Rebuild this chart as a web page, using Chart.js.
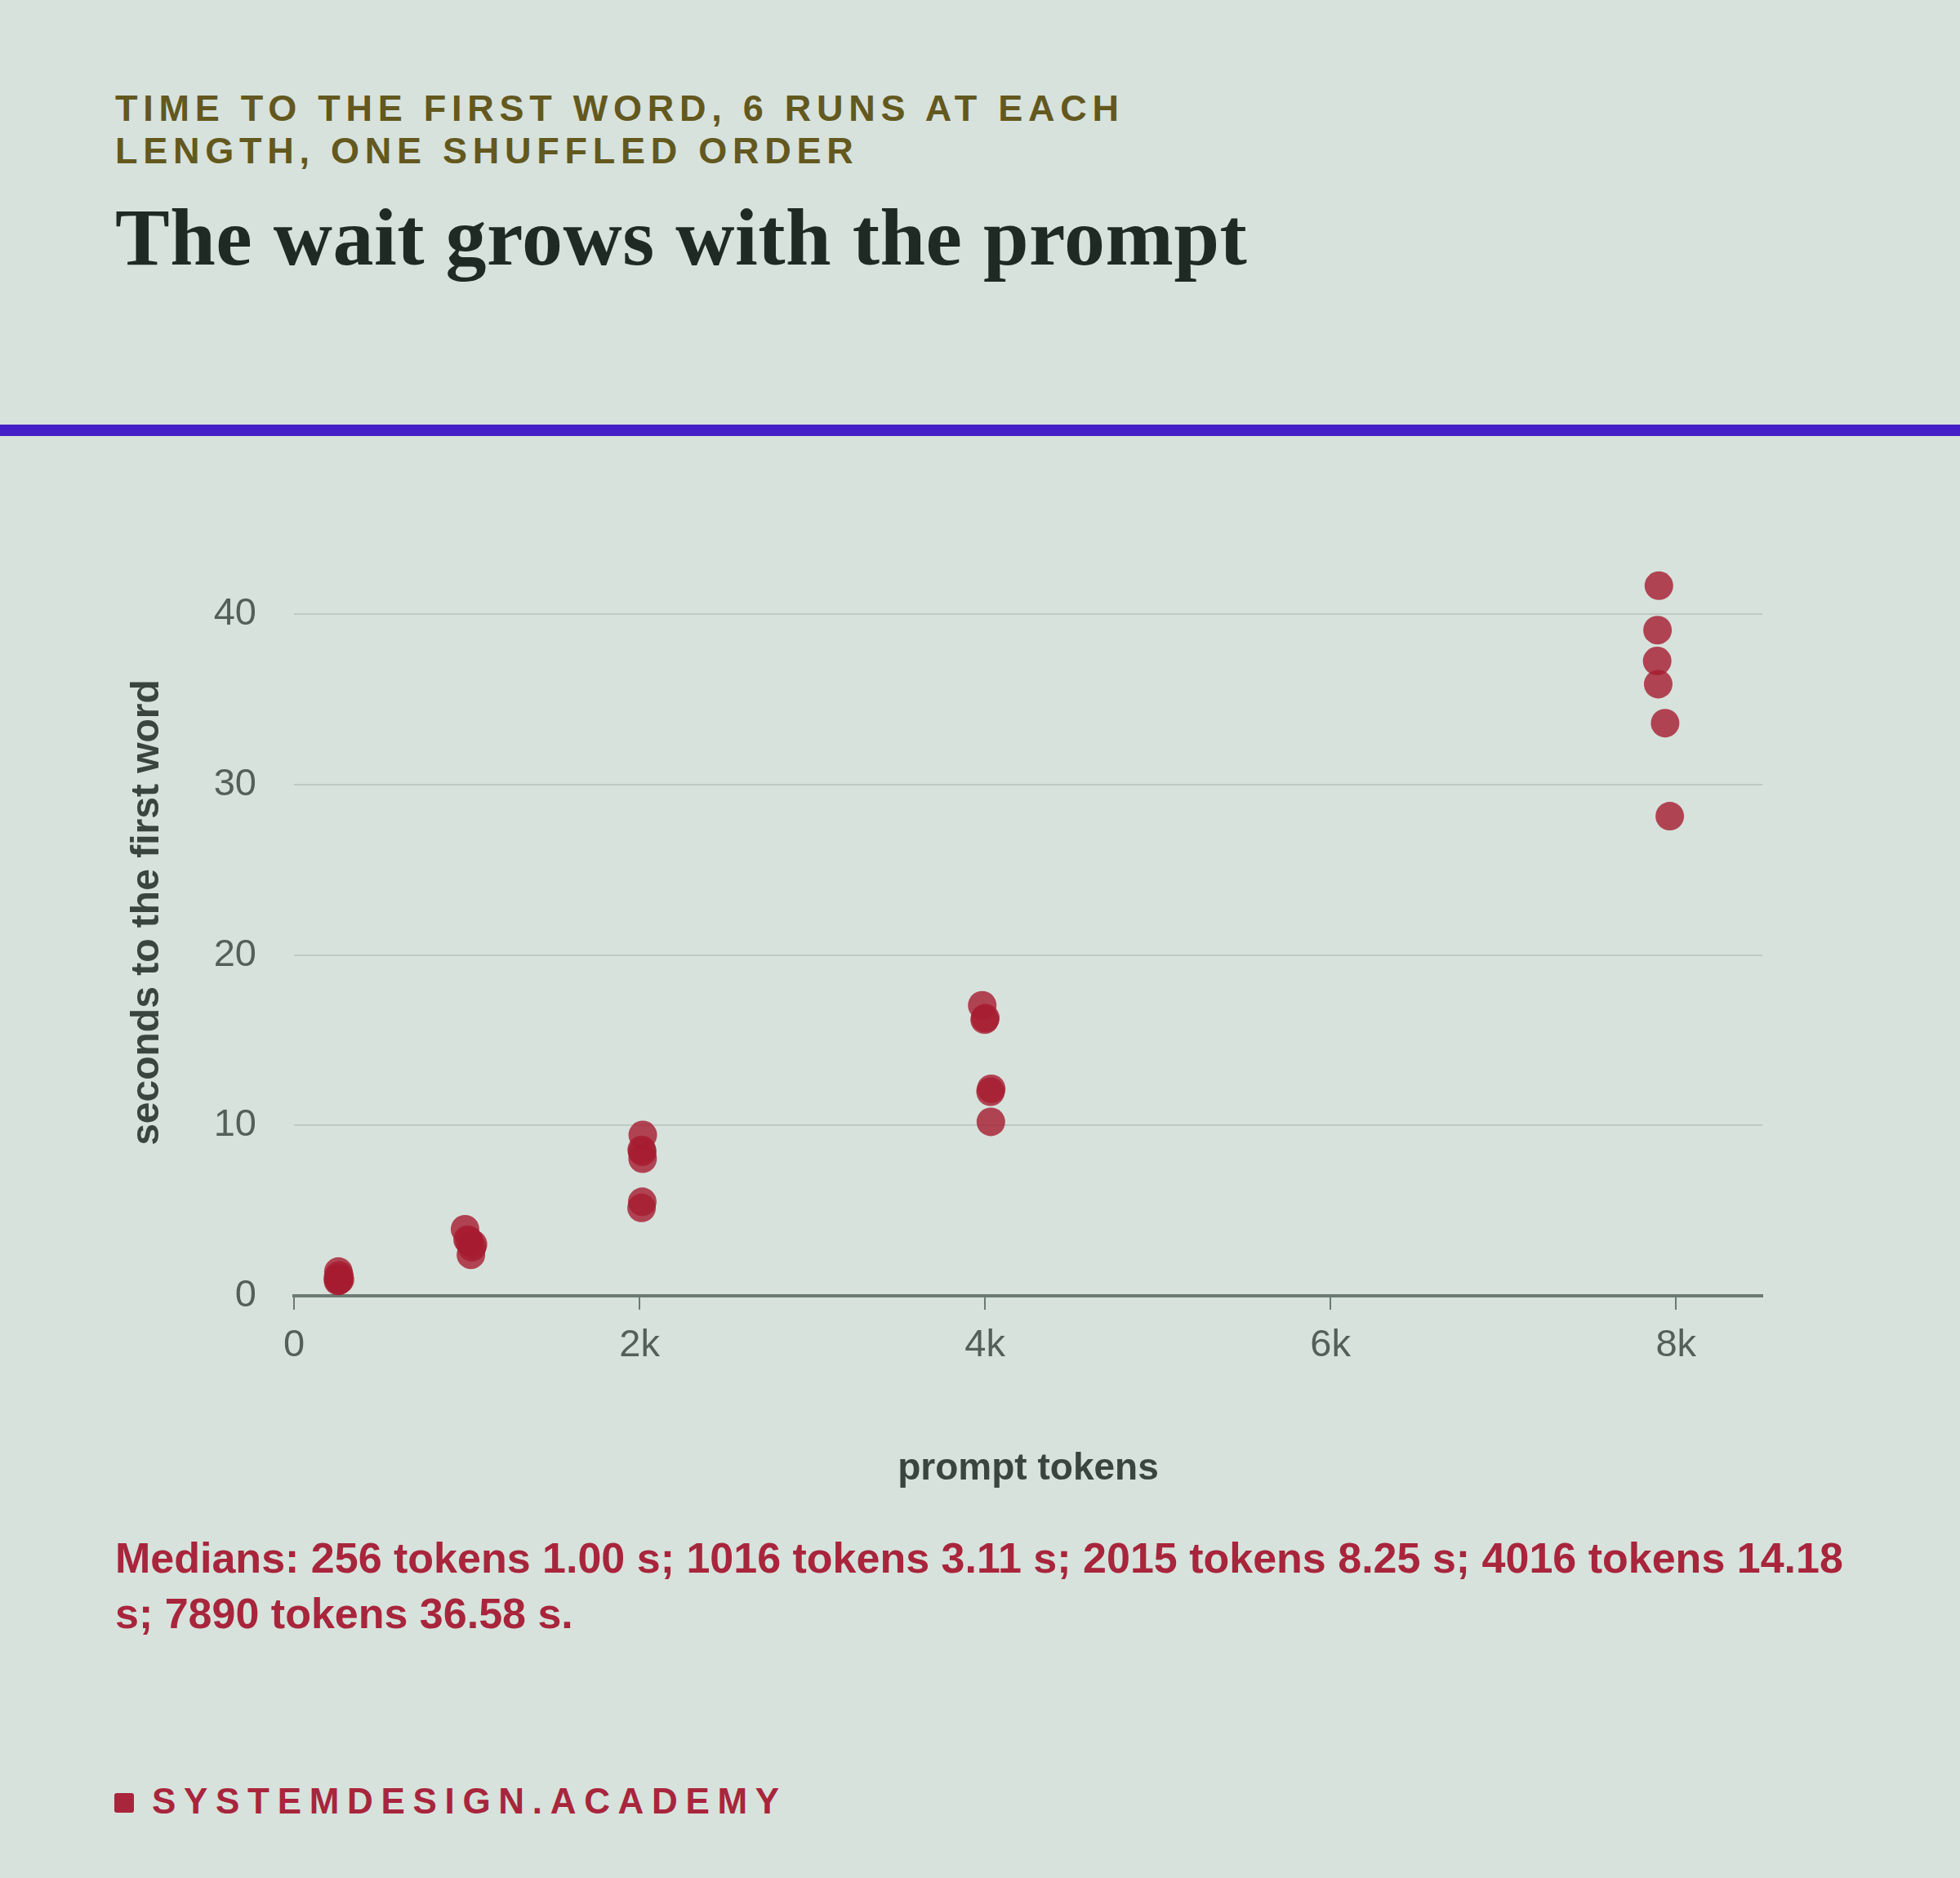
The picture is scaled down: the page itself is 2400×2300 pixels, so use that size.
<!DOCTYPE html>
<html>
<head>
<meta charset="utf-8">
<title>The wait grows with the prompt</title>
<script src="https://cdn.jsdelivr.net/npm/chart.js@4"></script>
<style>
  body {
    margin: 0;
    background: #d7e2dc;
  }
  .page {
    position: relative;
    width: 2400px;
    height: 2300px;
    background: #d7e2dc;
    font-family: "Liberation Sans", Arial, sans-serif;
  }
  .kicker {
    position: absolute;
    left: 141px;
    top: 107px;
    width: 1420px;
    font-size: 45px;
    line-height: 52px;
    font-weight: bold;
    letter-spacing: 0.15em;
    color: #63581e;
  }
  .title {
    position: absolute;
    left: 141px;
    top: 241px;
    font-family: "Liberation Serif", "DejaVu Serif", serif;
    font-size: 100px;
    line-height: 1;
    font-weight: bold;
    letter-spacing: 0.005em;
    color: #1f2a25;
  }
  .rule {
    position: absolute;
    left: 0;
    top: 520px;
    width: 2400px;
    height: 14px;
    background: #4520c8;
  }
  .chart-box {
    position: absolute;
    left: 0;
    top: 600px;
    width: 2400px;
    height: 1300px;
  }
  .medians {
    position: absolute;
    left: 141px;
    top: 1874px;
    width: 2130px;
    font-size: 52px;
    line-height: 68px;
    font-weight: bold;
    color: #a8253c;
  }
  .footer {
    position: absolute;
    left: 186px;
    top: 2184px;
    font-size: 44px;
    line-height: 1;
    font-weight: bold;
    letter-spacing: 0.22em;
    color: #a8253c;
  }
  .footer-mark {
    position: absolute;
    left: 140px;
    top: 2196px;
    width: 24px;
    height: 24px;
    border-radius: 3px;
    background: #a8253c;
  }
</style>
</head>
<body>
<div class="page">
  <div class="kicker">TIME TO THE FIRST WORD, 6 RUNS AT EACH LENGTH, ONE SHUFFLED ORDER</div>
  <div class="title">The wait grows with the prompt</div>
  <div class="rule"></div>
  <div class="chart-box"><canvas id="ttftChart"></canvas></div>
  <div class="medians">Medians: 256 tokens 1.00 s; 1016 tokens 3.11 s; 2015 tokens 8.25 s; 4016 tokens 14.18 s; 7890 tokens 36.58 s.</div>
  <div class="footer-mark"></div>
  <div class="footer">SYSTEMDESIGN.ACADEMY</div>
</div>

<script>
// prompt length of each run (small jitter around 256, 1016, 2015, 4016, 7890)
const runTokens = [
  257, 262, 254, 266, 259, 255,
  990, 1005, 1015, 1036, 1030, 1024,
  2019, 2013, 2016, 2018, 2016, 2012,
  3984, 4002, 3998, 4036, 4032, 4034,
  7901, 7893, 7891, 7897, 7937, 7964,
];

// seconds to the first word
const runSeconds = [
  1.42, 1.2, 1.05, 0.95, 0.9, 0.87,
  3.91, 3.3, 3.21, 3.02, 2.85, 2.41,
  9.44, 8.57, 8.45, 8.05, 5.52, 5.16,
  17.05, 16.3, 16.21, 12.15, 11.98, 10.21,
  41.68, 39.07, 37.26, 35.9, 33.61, 28.15,
];

const xTicks = [0, 2000, 4000, 6000, 8000];
const yTicks = [0, 10, 20, 30, 40];

const points = runTokens.map((t, i) => ({ x: t, y: runSeconds[i] }));

const axisGrey = "#6b7a72";
const labelGrey = "#555f5a";
const titleGrey = "#3a4540";

Chart.defaults.font.family = '"Liberation Sans", Arial, sans-serif';

const ctx = document.getElementById("ttftChart").getContext("2d");

new Chart(ctx, {
  type: "scatter",
  data: {
    datasets: [
      {
        label: "runs",
        data: points,
        backgroundColor: "rgba(166, 28, 48, 0.8)",
        borderWidth: 0,
        pointRadius: 17.5,
        pointHoverRadius: 17.5,
      },
    ],
  },
  options: {
    responsive: true,
    maintainAspectRatio: false,
    animation: false,
    devicePixelRatio: 1,
    layout: {
      padding: { left: 0, right: 242, top: 48, bottom: 0 },
    },
    plugins: {
      legend: { display: false },
      tooltip: { enabled: false },
    },
    scales: {
      x: {
        type: "linear",
        min: 0,
        max: 8500,
        afterFit: (scale) => {
          scale.height = 313;
        },
        afterBuildTicks: (scale) => {
          scale.ticks = xTicks.map((v) => ({ value: v }));
        },
        ticks: {
          color: labelGrey,
          font: { size: 47 },
          padding: 16,
          maxRotation: 0,
          callback: (v) => (v === 0 ? "0" : v / 1000 + "k"),
        },
        grid: {
          drawOnChartArea: false,
          drawTicks: true,
          tickLength: 17,
          color: axisGrey,
          lineWidth: 2,
        },
        border: {
          display: true,
          color: axisGrey,
          width: 4,
        },
        title: {
          display: true,
          text: "prompt tokens",
          color: titleGrey,
          font: { size: 46, weight: "bold" },
          padding: { top: 0, bottom: 73 },
        },
      },
      y: {
        type: "linear",
        min: 0,
        max: 45,
        afterFit: (scale) => {
          scale.width = 360;
        },
        afterBuildTicks: (scale) => {
          scale.ticks = yTicks.map((v) => ({ value: v }));
        },
        ticks: {
          color: labelGrey,
          font: { size: 47 },
          // small padding keeps the top of the plot where it should be,
          // the invisible tick marks make up the gap to the labels
          padding: 14,
        },
        grid: {
          drawTicks: true,
          tickLength: 32,
          tickColor: "rgba(0, 0, 0, 0)",
          color: "#bfc9c4",
          lineWidth: 2,
        },
        border: { display: false },
        title: {
          display: true,
          text: "seconds to the first word",
          color: titleGrey,
          font: { size: 48, weight: "bold" },
          padding: { top: 152, bottom: 0 },
        },
      },
    },
  },
});
</script>
</body>
</html>
